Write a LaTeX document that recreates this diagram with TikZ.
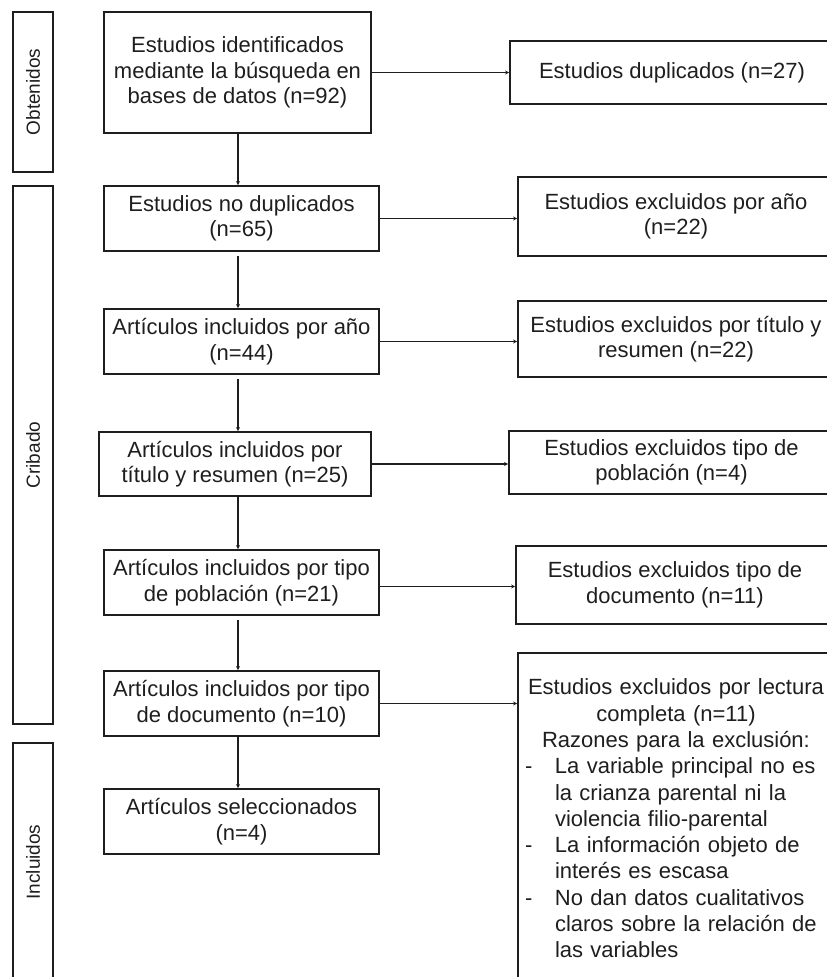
\documentclass[tikz,border=0pt]{standalone}
\usepackage{fontspec}
\setmainfont{Liberation Sans}
\usetikzlibrary{arrows.meta}
\definecolor{ink}{HTML}{1E1E1E}
\tikzset{
  box/.style={draw=ink, line width=1.8pt, inner sep=0pt, align=center,
    text=ink, font=\fontsize{22}{25.5}\selectfont},
  lab/.style={draw=ink, line width=1.8pt, inner sep=0pt, minimum width=40pt},
  labtext/.style={text=ink, font=\fontsize{19}{22}\selectfont, rotate=90},
  arr/.style={draw=ink, line width=1.8pt, -{Stealth[length=4pt,width=4pt]}}
}
\begin{document}
\begin{tikzpicture}[x=1pt,y=-1pt]
\useasboundingbox (0,0) rectangle (827,977);
\clip (0,0) rectangle (827,977);
% left stage labels
\node[lab, minimum height=160pt] (L1) at (33,92) {};
\node[labtext] (L1t) at (L1.center) {Obtenidos};
\node[lab, minimum height=538pt] (L2) at (33,455) {};
\node[labtext] (L2t) at (L2.center) {Cribado};
\node[lab, minimum height=238pt] (L3) at (33,862) {};
\node[labtext] (L3t) at (L3.center) {Incluidos};
% main column
\node[box, minimum width=267pt, minimum height=121pt] (a1) at (237.5,72.5)
  {Estudios identificados\\mediante la búsqueda en\\bases de datos (n=92)};
\node[box, minimum width=275pt, minimum height=65pt] (a2) at (241.5,218.5)
  {Estudios no duplicados\\(n=65)};
\node[box, minimum width=275pt, minimum height=65pt] (a3) at (241.5,341.5)
  {Artículos incluidos por año\\(n=44)};
\node[box, minimum width=272pt, minimum height=64pt] (a4) at (235,464)
  {Artículos incluidos por\\título y resumen (n=25)};
\node[box, minimum width=275pt, minimum height=65pt] (a5) at (241.5,582.5)
  {Artículos incluidos por tipo\\de población (n=21)};
\node[box, minimum width=275pt, minimum height=65pt] (a6) at (241.5,703.5)
  {Artículos incluidos por tipo\\de documento (n=10)};
\node[box, minimum width=275pt, minimum height=65pt] (a7) at (241.5,821.5)
  {Artículos seleccionados\\(n=4)};
% right column
\node[box, minimum width=324pt, minimum height=63pt] (b1) at (672,72.5)
  {Estudios duplicados (n=27)};
\node[box, minimum width=316pt, minimum height=79pt] (b2) at (676,216.5)
  {Estudios excluidos por año\\(n=22)};
\node[box, minimum width=316pt, minimum height=76pt] (b3) at (676,339)
  {Estudios excluidos por título y\\resumen (n=22)};
\node[box, minimum width=325pt, minimum height=63pt] (b4) at (671.5,462.5)
  {Estudios excluidos tipo de\\población (n=4)};
\node[box, minimum width=318pt, minimum height=78pt] (b5) at (675,585)
  {Estudios excluidos tipo de\\documento (n=11)};
\node[box, minimum width=316pt, minimum height=331pt, text width=302pt,
  align=left, font=\fontsize{22}{26.3}\selectfont] (b6) at (676,818.5)
  {\setlength\parindent{0pt}%
   {\centering Estudios excluidos por lectura\\completa (n=11)\\Razones para la exclusión:\par}%
   \raggedright
   \makebox[30pt][l]{-}La variable principal no es\\
   \hspace*{30pt}la crianza parental ni la\\
   \hspace*{30pt}violencia filio-parental\\
   \makebox[30pt][l]{-}La información objeto de\\
   \hspace*{30pt}interés es escasa\\
   \makebox[30pt][l]{-}No dan datos cualitativos\\
   \hspace*{30pt}claros sobre la relación de\\
   \hspace*{30pt}las variables};
% vertical flow
\coordinate (ax) at (238,0);
\draw[arr] (a1.south -| ax) -- (a2.north -| ax);
\draw[arr] ([yshift=-4pt]a2.south -| ax) -- (a3.north -| ax);
\draw[arr] ([yshift=-4pt]a3.south -| ax) -- (a4.north -| ax);
\draw[arr] (a4.south -| ax) -- (a5.north -| ax);
\draw[arr] ([yshift=-4pt]a5.south -| ax) -- (a6.north -| ax);
\draw[arr] (a6.south -| ax) -- (a7.north -| ax);
% exclusions
\draw[arr] (a1.east) -- (a1.east -| b1.west);
\draw[arr] (a2.east) -- (a2.east -| b2.west);
\draw[arr] (a3.east) -- (a3.east -| b3.west);
\draw[arr] (a4.east) -- (a4.east -| b4.west);
\draw[arr] ([yshift=-4pt]a5.east) -- ([yshift=-4pt]a5.east -| b5.west);
\draw[arr] (a6.east) -- (a6.east -| b6.west);
\end{tikzpicture}
\end{document}
